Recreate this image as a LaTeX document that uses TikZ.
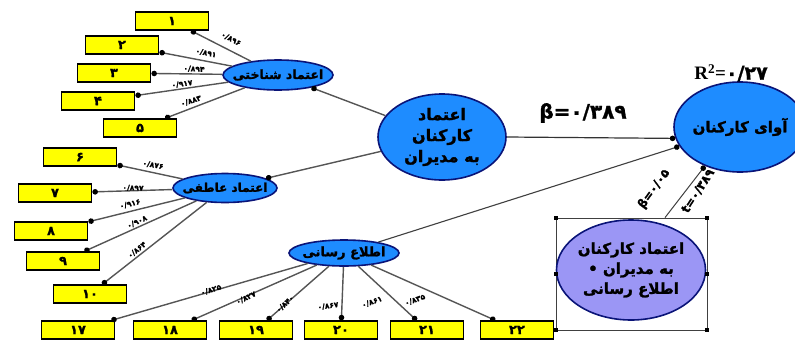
\documentclass[tikz,border=0pt]{standalone}
\usepackage{fontspec}
\setmainfont[BoldFeatures={FakeBold=1.2}]{DejaVu Sans}
\newfontfamily\arabicfont[Script=Arabic, BoldFeatures={FakeBold=1.5}]{DejaVu Sans}
\newfontfamily\serifb{Liberation Serif}
\TeXXeTstate=1
\usetikzlibrary{shapes.geometric,arrows.meta}
\definecolor{nodeblue}{RGB}{30,140,255}
\definecolor{navyb}{RGB}{10,20,120}
\definecolor{lav}{RGB}{155,150,245}
\definecolor{boxyellow}{RGB}{255,255,0}
\definecolor{linegray}{RGB}{85,85,85}
\begin{document}
\begin{tikzpicture}[x=1pt,y=-1pt,
  ind/.style={draw=black, line width=1.8pt, fill=boxyellow, minimum width=73pt, minimum height=17.5pt, inner sep=0pt, font=\fontsize{13}{13}\selectfont\bfseries},
  lv/.style={ellipse, draw=navyb, line width=1.6pt, fill=nodeblue, inner xsep=-14pt, inner ysep=-4pt},
  conn/.style={draw=linegray, line width=1.4pt, -{Circle[length=5.5pt,color=black]}},
  lab/.style={font=\fontsize{7.5}{8}\selectfont\bfseries, inner sep=0pt},
  blab/.style={font=\fontsize{12}{12}\selectfont\bfseries, inner sep=0pt},
  handle/.style={fill=black, minimum size=4pt, inner sep=0pt}
]
\useasboundingbox (0,0) rectangle (795,343);

% indicator boxes
\node[ind] (b1) at (172,21) {۱};
\node[ind] (b2) at (122,45) {۲};
\node[ind] (b3) at (114,73) {۳};
\node[ind] (b4) at (98,101) {۴};
\node[ind] (b5) at (140,128) {۵};
\node[ind] (b6) at (80,157) {۶};
\node[ind] (b7) at (55,193) {۷};
\node[ind] (b8) at (51,231) {۸};
\node[ind] (b9) at (63,261) {۹};
\node[ind] (b10) at (90,294) {۱۰};
\node[ind] (b17) at (78,330) {۱۷};
\node[ind] (b18) at (170,330) {۱۸};
\node[ind] (b19) at (256,330) {۱۹};
\node[ind] (b20) at (341,330) {۲۰};
\node[ind] (b21) at (427,330) {۲۱};
\node[ind] (b22) at (517,330) {۲۲};

% latent variables
\node[lv, minimum width=110pt, minimum height=30pt, font=\arabicfont\bfseries\fontsize{12.5}{12.5}\selectfont] (cog) at (278,75) {\beginR اعتماد شناختی\endR};
\node[lv, minimum width=104pt, minimum height=29pt, font=\arabicfont\bfseries\fontsize{12}{12}\selectfont] (aff) at (225,188) {\beginR اعتماد عاطفی\endR};
\node[lv, minimum width=110pt, minimum height=26pt, font=\arabicfont\bfseries\fontsize{13}{13}\selectfont] (info) at (344,253) {\beginR اطلاع رسانی\endR};
\node[lv, minimum width=128pt, minimum height=86pt, align=center, font=\arabicfont\bfseries\fontsize{16}{21}\selectfont] (central) at (442,137) {\beginR اعتماد\endR\\\beginR کارکنان\endR\\\beginR به مدیران\endR};
\node[lv, minimum width=132pt, minimum height=90pt, font=\arabicfont\bfseries\fontsize{15}{15}\selectfont] (outcome) at (740,127) {\beginR آوای کارکنان\endR};

% moderator
\node[draw=black!75, line width=0.8pt, minimum width=151pt, minimum height=112pt, inner sep=0pt] (modbox) at (631.5,274) {};
\node[lv, fill=lav, minimum width=149pt, minimum height=100pt, align=center, font=\arabicfont\bfseries\fontsize{15}{20}\selectfont] (mod) at (631,270) {\beginR اعتماد کارکنان\endR\\\beginR به مدیران •\endR\\\beginR اطلاع رسانی\endR};
\node[handle] (h1) at (modbox.north west) {};
\node[handle] (h2) at (modbox.north east) {};
\node[handle] (h3) at (modbox.south west) {};
\node[handle] (h4) at (modbox.south east) {};
\node[handle] (h5) at (modbox.west) {};
\node[handle] (h6) at (modbox.east) {};

% connectors
\draw[conn] (cog) -- (b1);
\draw[conn] (cog) -- (b2);
\draw[conn] (cog) -- (b3);
\draw[conn] (cog) -- (b4);
\draw[conn] (cog) -- (b5);
\draw[conn] (aff) -- (b6);
\draw[conn] (aff) -- (b7);
\draw[conn] (aff) -- (b8);
\draw[conn] (aff) -- (b9);
\draw[conn] (aff) -- (b10);
\draw[conn] (info) -- (b17);
\draw[conn] (info) -- (b18);
\draw[conn] (info) -- (b19);
\draw[conn] (info) -- (b20);
\draw[conn] (info) -- (b21);
\draw[conn] (info) -- (b22);
\draw[conn] (central) -- (cog);
\draw[conn] (central) -- (aff);
\draw[conn, draw=black!80, line width=1.2pt] (central.east) -- (outcome.190);
\draw[conn, draw=black!75, line width=1.1pt] (info) -- (outcome);
\draw[conn, draw=black!75, line width=1pt] ([xshift=33.5pt]modbox.north) -- (outcome.228);

% loadings
\node[lab, rotate=-28] (l1) at (231,39) {۰/۸۹۶};
\node[lab, rotate=-12] (l2) at (206,53) {۰/۸۹۱};
\node[lab, rotate=-3] (l3) at (194,69) {۰/۸۹۴};
\node[lab, rotate=8] (l4) at (182,84) {۰/۹۱۷};
\node[lab, rotate=18] (l5) at (191,101) {۰/۸۸۳};
\node[lab, rotate=-10] (l6) at (153,165) {۰/۸۷۶};
\node[lab, rotate=-2] (l7) at (133,188) {۰/۸۹۷};
\node[lab, rotate=14] (l8) at (130,204) {۰/۹۱۶};
\node[lab, rotate=25] (l9) at (137,222) {۰/۹۰۸};
\node[lab, rotate=39] (l10) at (137,250) {۰/۸۶۴};
\node[lab, rotate=18] (l17) at (211,290) {۰/۸۲۵};
\node[lab, rotate=26] (l18) at (246,298) {۰/۸۲۷};
\node[lab, rotate=43] (l19) at (285,304) {۰/۸۴۰};
\node[lab, rotate=8] (l20) at (328,306) {۰/۸۶۷};
\node[lab, rotate=20] (l21) at (372,302) {۰/۸۶۱};
\node[lab, rotate=20] (l22) at (415,300) {۰/۸۳۵};

% path coefficients
\node[font=\fontsize{20}{20}\selectfont\bfseries, inner sep=0pt] (beta) at (583,113) {β=۰/۳۸۹};
\node[font=\fontsize{19}{19}\selectfont\bfseries, inner sep=0pt] (r2) at (731,73) {{\serifb\bfseries R\textsuperscript{2}=}۰/۲۷};
\node[blab, rotate=54] (mb) at (654,189) {β=۰/۰۵};
\node[blab, rotate=57] (mt) at (698,191) {t=۰/۳۸۹};
\end{tikzpicture}
\end{document}
